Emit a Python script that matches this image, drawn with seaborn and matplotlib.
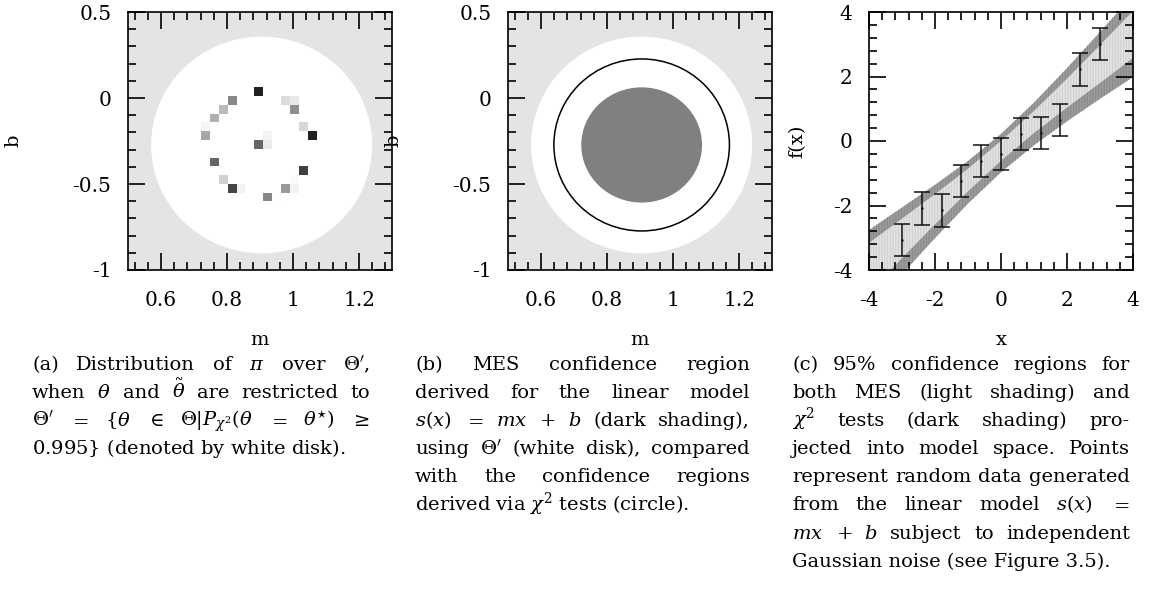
import numpy as np
import matplotlib
matplotlib.use("Agg")
import matplotlib.pyplot as plt
import seaborn as sns
from matplotlib.patches import Ellipse
from matplotlib.ticker import MultipleLocator, AutoMinorLocator, FuncFormatter

# ---------------- data ----------------
# (a) distribution of pi over Theta' : occupied (m, b) bins and their weight
cell_m = [0.897, 0.815, 0.978, 1.005, 0.788, 1.005, 0.761, 0.734, 1.032, 0.734,
          1.059, 0.924, 0.897, 0.924, 0.761, 1.032, 1.005, 0.788, 0.815, 0.842,
          0.978, 1.005, 0.924, 0.951]
cell_b = [0.037, -0.014, -0.014, -0.014, -0.065, -0.065, -0.116, -0.167, -0.167, -0.219,
          -0.219, -0.219, -0.270, -0.270, -0.372, -0.423, -0.474, -0.474, -0.525, -0.525,
          -0.525, -0.525, -0.576, -0.576]
cell_p = [0.87, 0.47, 0.14, 0.09, 0.27, 0.44, 0.31, 0.04, 0.16, 0.35,
          0.87, 0.05, 0.60, 0.08, 0.60, 0.75, 0.02, 0.18, 0.73, 0.05,
          0.40, 0.05, 0.47, 0.01]
cell_dm, cell_db = 0.0271, 0.0511

# regions in (m, b) parameter space
region_center = (0.905, -0.273)
theta_radii = (0.335, 0.630)   # Theta' (white disk)
chi2_radii = (0.266, 0.500)    # chi^2 confidence region (circle)
mes_radii = (0.183, 0.335)     # MES confidence region (dark shading)

# (c) data points with error bars
pts_x = [-3.0, -2.4, -1.8, -1.2, -0.6, 0.0, 0.6, 1.2, 1.8, 2.4, 3.0]
pts_y = [-3.06, -2.09, -2.155, -1.24, -0.615, -0.40, 0.215, 0.245, 0.65, 2.22, 3.0]
pts_err = [0.5, 0.5, 0.5, 0.5, 0.5, 0.5, 0.5, 0.5, 0.5, 0.5, 0.5]

# (c) projected confidence bands in model space
band_x = [-4, -3, -2, -1, 0, 1, 2, 3, 4]
chi2_hi = [-2.76, -2.06, -1.36, -0.62, 0.22, 1.19, 2.26, 3.38, 4.52]
chi2_lo = [-5.27, -4.13, -3.01, -1.94, -0.97, -0.13, 0.61, 1.31, 1.98]
mes_hi = [-3.16, -2.41, -1.65, -0.86, 0.00, 0.93, 1.93, 2.97, 4.03]
mes_lo = [-4.70, -3.63, -2.58, -1.56, -0.61, 0.25, 1.04, 1.80, 2.58]

cap_a = [
    ["(a)", "Distribution", "of", r"$\pi$", "over", r"$\Theta'$,"],
    ["when", r"$\theta$", "and", r"$\tilde{\theta}$", "are", "restricted", "to"],
    [r"$\Theta'$", r"$=$", r"$\{\theta$", r"$\in$", r"$\Theta|P_{\chi^2}(\theta$", r"$=$",
     r"$\theta^{\star})$", r"$\geq$"],
    [r"$0.995\}$", "(denoted", "by", "white", "disk)."],
]
cap_b = [
    ["(b)", "MES", "confidence", "region"],
    ["derived", "for", "the", "linear", "model"],
    [r"$s(x)$", r"$=$", r"$mx$", r"$+$", r"$b$", "(dark", "shading),"],
    ["using", r"$\Theta'$", "(white", "disk),", "compared"],
    ["with", "the", "confidence", "regions"],
    ["derived", "via", r"$\chi^2$", "tests", "(circle)."],
]
cap_c = [
    ["(c)", "95%", "confidence", "regions", "for"],
    ["both", "MES", "(light", "shading)", "and"],
    [r"$\chi^2$", "tests", "(dark", "shading)", "pro-"],
    ["jected", "into", "model", "space.", "Points"],
    ["represent", "random", "data", "generated"],
    ["from", "the", "linear", "model", r"$s(x)$", r"$=$"],
    [r"$mx$", r"$+$", r"$b$", "subject", "to", "independent"],
    ["Gaussian", "noise", "(see", "Figure", "3.5)."],
]

# ---------------- style ----------------
sns.set_theme(style="ticks")
plt.rcParams["font.family"] = ["DejaVu Serif"]
plt.rcParams["mathtext.fontset"] = "dejavuserif"
plt.rcParams["axes.unicode_minus"] = False
plt.rcParams["hatch.linewidth"] = 0.8
for key in ("text.color", "axes.labelcolor", "xtick.color", "ytick.color", "axes.edgecolor"):
    plt.rcParams[key] = "black"

W, H, DPI = 1149, 598, 100
FS = 14
TICK_FS = 14.5
fig = plt.figure(figsize=(W / DPI, H / DPI), dpi=DPI)
fig.patch.set_facecolor("white")


def px_axes(left, top, right, bottom):
    return fig.add_axes([left / W, 1 - bottom / H, (right - left) / W, (bottom - top) / H])


def tick_fmt(v, _):
    if abs(v) < 1e-9:
        v = 0.0
    return f"{v:g}"


def style_axes(ax, xmaj, ymaj, ylabel_x):
    ax.xaxis.set_major_locator(MultipleLocator(xmaj))
    ax.yaxis.set_major_locator(MultipleLocator(ymaj))
    ax.xaxis.set_minor_locator(AutoMinorLocator(5))
    ax.yaxis.set_minor_locator(AutoMinorLocator(5))
    ax.xaxis.set_major_formatter(FuncFormatter(tick_fmt))
    ax.yaxis.set_major_formatter(FuncFormatter(tick_fmt))
    ax.tick_params(which="both", direction="in", top=True, right=True,
                   color="black", width=1.2)
    ax.tick_params(which="major", length=12)
    ax.tick_params(which="minor", length=6)
    ax.tick_params(axis="x", which="major", pad=15, labelsize=TICK_FS)
    ax.tick_params(axis="y", which="major", pad=12, labelsize=TICK_FS)
    for s in ax.spines.values():
        s.set_linewidth(1.2)
        s.set_color("black")
        s.set_visible(True)
    ax.set_axisbelow(False)
    ax.xaxis.set_label_coords(0.5, (270 - 340) / 258)
    ax.xaxis.label.set_va("center")
    ax.yaxis.set_label_coords(ylabel_x, 0.5)
    ax.yaxis.label.set_va("center")


# ---------------- (a) ----------------
ax_a = px_axes(128, 12, 392, 270)
ax_a.set_facecolor("#e4e4e4")
ax_a.add_patch(Ellipse(region_center, 2 * theta_radii[0], 2 * theta_radii[1],
                       facecolor="white", edgecolor="none", zorder=1))
cm = np.array(cell_m)
cb = np.array(cell_b)
ii = np.rint((cm - cm.min()) / cell_dm).astype(int)
jj = np.rint((cb - cb.min()) / cell_db).astype(int)
grid = np.full((jj.max() + 1, ii.max() + 1), np.nan)
grid[jj, ii] = cell_p
m_edges = cm.min() - cell_dm / 2 + cell_dm * np.arange(ii.max() + 2)
b_edges = cb.min() - cell_db / 2 + cell_db * np.arange(jj.max() + 2)
ax_a.pcolormesh(m_edges, b_edges, np.ma.masked_invalid(grid), cmap="gray_r",
                vmin=0, vmax=1, zorder=2)
ax_a.set_xlim(0.5, 1.3)
ax_a.set_ylim(-1, 0.5)
ax_a.set_xlabel("m", fontsize=FS)
ax_a.set_ylabel("b", fontsize=FS)
style_axes(ax_a, 0.2, 0.5, (13 - 128) / 264)

# ---------------- (b) ----------------
ax_b = px_axes(508, 12, 772, 270)
ax_b.set_facecolor("#e4e4e4")
ax_b.add_patch(Ellipse(region_center, 2 * theta_radii[0], 2 * theta_radii[1],
                       facecolor="white", edgecolor="none", zorder=1))
ax_b.add_patch(Ellipse(region_center, 2 * mes_radii[0], 2 * mes_radii[1],
                       facecolor="#808080", edgecolor="none", zorder=2))
ax_b.add_patch(Ellipse(region_center, 2 * chi2_radii[0], 2 * chi2_radii[1],
                       facecolor="none", edgecolor="black", linewidth=1.1, zorder=3))
ax_b.set_xlim(0.5, 1.3)
ax_b.set_ylim(-1, 0.5)
ax_b.set_xlabel("m", fontsize=FS)
ax_b.set_ylabel("b", fontsize=FS)
style_axes(ax_b, 0.2, 0.5, (393 - 508) / 264)

# ---------------- (c) ----------------
ax_c = px_axes(869, 12, 1133, 270)
ax_c.set_facecolor("white")
ax_c.fill_between(band_x, chi2_lo, chi2_hi, facecolor="#9c9c9c", edgecolor="#8a8a8a",
                  hatch="||||||", linewidth=0, zorder=1)
ax_c.fill_between(band_x, mes_lo, mes_hi, facecolor="#e3e3e3", edgecolor="#cfcfcf",
                  hatch="||||||", linewidth=0, zorder=1.1)
ax_c.errorbar(pts_x, pts_y, yerr=pts_err, fmt="none", ecolor="#111111",
              elinewidth=1.1, capsize=5.8, capthick=1.1, zorder=3)
sns.scatterplot(x=pts_x, y=pts_y, ax=ax_c, s=3, color="#111111", linewidth=0, zorder=4)
ax_c.set_xlim(-4, 4)
ax_c.set_ylim(-4, 4)
ax_c.set_xlabel("x", fontsize=FS)
ax_c.set_ylabel("f(x)", fontsize=FS)
style_axes(ax_c, 2, 2, (797.5 - 869) / 264)

# ---------------- captions ----------------
renderer = fig.canvas.get_renderer()
trans = fig.dpi_scale_trans


def caption(lines, x0, x1, y0, pitch=28.1):
    for k, toks in enumerate(lines):
        y = (H - (y0 + k * pitch)) / DPI
        if k == len(lines) - 1:
            fig.text(x0 / DPI, y, " ".join(toks), transform=trans, ha="left",
                     va="baseline", fontsize=FS)
            continue
        texts = [fig.text(0, y, t, transform=trans, ha="left", va="baseline",
                          fontsize=FS) for t in toks]
        widths = [t.get_window_extent(renderer).width for t in texts]
        gap = (x1 - x0 - sum(widths)) / (len(texts) - 1)
        x = x0
        for t, w in zip(texts, widths):
            t.set_x(x / DPI)
            x += w + gap


caption(cap_a, 32, 370, 370)
caption(cap_b, 415, 750, 370)
caption(cap_c, 792, 1130, 370)

fig.savefig("out.png", dpi=DPI)
